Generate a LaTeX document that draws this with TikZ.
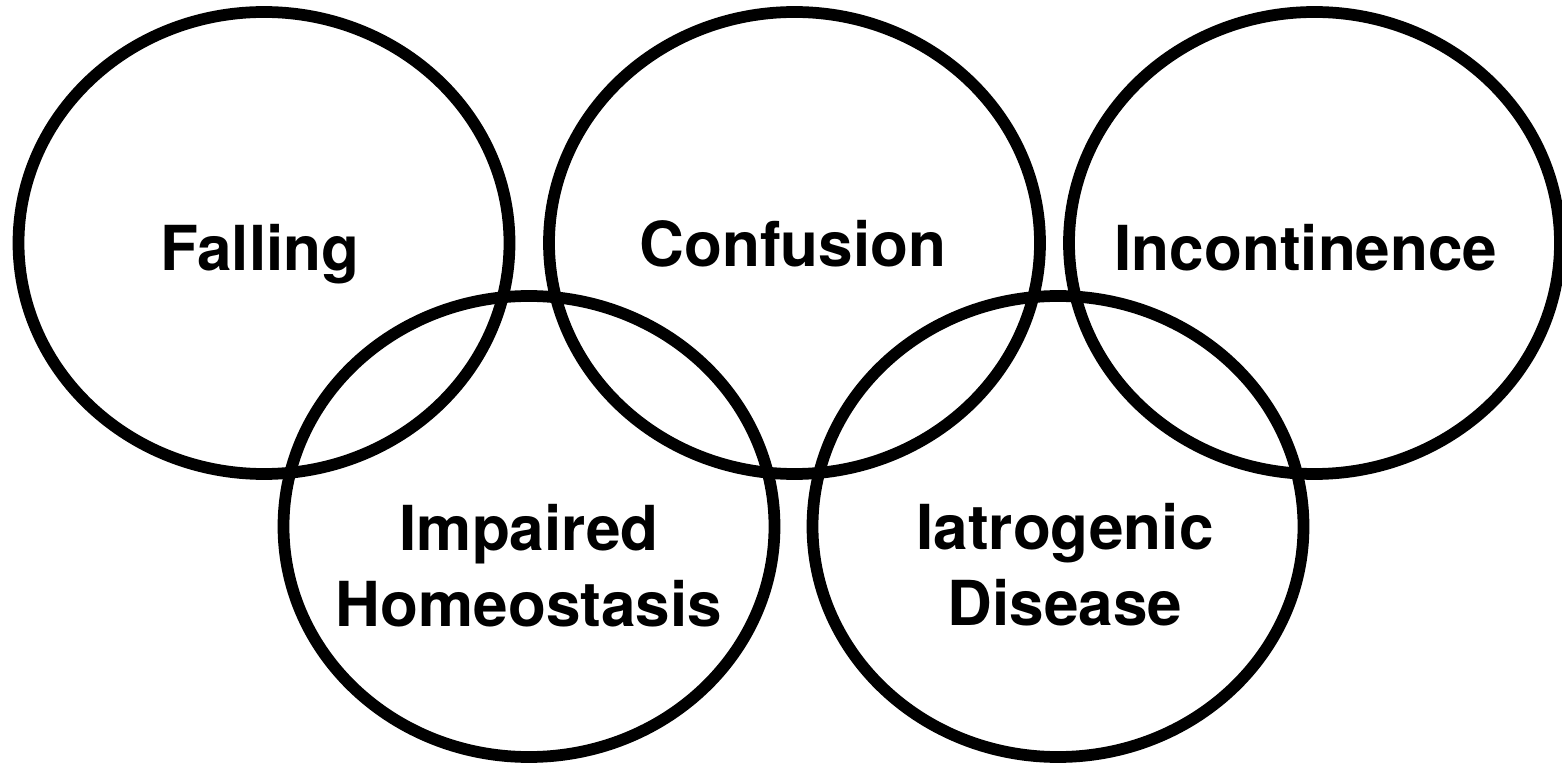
\documentclass[tikz,border=0pt]{standalone}
\usepackage{fontspec}
\setmainfont{TeX Gyre Heros}
\tikzset{ring/.style={line width=0.235cm}, word/.style={font=\fontsize{35.3}{43.2}\selectfont\bfseries, inner sep=0pt, align=center}}
\begin{document}
\begin{tikzpicture}[x=0.02cm, y=-0.02cm]
\useasboundingbox (0,0) rectangle (1562,763);

\draw [ring] (264,243) ellipse (245.5 and 231);
\draw [ring] (794.5,243) ellipse (245.5 and 231);
\draw [ring] (1314.5,243) ellipse (245.5 and 231);
\draw [ring] (529,526.5) ellipse (245.5 and 230.5);
\draw [ring] (1058,526.5) ellipse (245.5 and 230.5);

\node (falling) at (260,271) [word, anchor=base] {Falling};
\node (confusion) at (793,267) [word, anchor=base] {Confusion};
\node (incontinence) at (1306,271) [word, anchor=base] {Incontinence};
\node (homeostasis) at (529,504) [word, anchor=north] {Impaired\\Homeostasis};
\node (iatrogenic) at (1065,503) [word, anchor=north] {Iatrogenic\\Disease};
\end{tikzpicture}
\end{document}
